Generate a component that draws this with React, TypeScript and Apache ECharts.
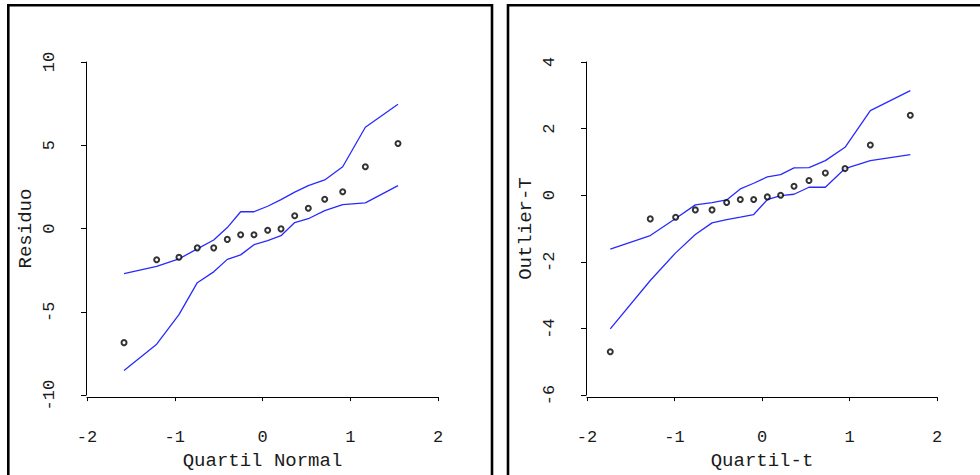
import React, { useEffect, useRef } from "react";
import * as echarts from "echarts";

// Left panel: normal probability plot of the residuals with its envelope
const leftQuantiles = [-1.578, -1.206, -0.952, -0.743, -0.556, -0.401, -0.249, -0.097, 0.059, 0.211, 0.367, 0.522, 0.709, 0.914, 1.172, 1.544];
const leftResiduals = [-6.85, -1.87, -1.72, -1.16, -1.16, -0.65, -0.37, -0.37, -0.1, -0.02, 0.77, 1.22, 1.76, 2.21, 3.71, 5.11];
const leftUpper = [-2.7, -2.27, -1.82, -1.22, -0.69, 0.06, 1.01, 1.01, 1.34, 1.74, 2.19, 2.58, 2.92, 3.71, 6.08, 7.46];
const leftLower = [-8.52, -6.94, -5.17, -3.25, -2.6, -1.85, -1.58, -0.97, -0.73, -0.43, 0.36, 0.59, 1.08, 1.44, 1.54, 2.58];

// Right panel: studentized residuals against t quantiles with its envelope
const rightQuantiles = [-1.734, -1.277, -0.987, -0.762, -0.571, -0.404, -0.248, -0.095, 0.061, 0.213, 0.366, 0.537, 0.724, 0.949, 1.238, 1.695];
const rightOutlierT = [-4.7, -0.71, -0.66, -0.44, -0.44, -0.22, -0.13, -0.13, -0.05, 0.0, 0.27, 0.44, 0.67, 0.8, 1.51, 2.4];
const rightUpper = [-1.62, -1.21, -0.7, -0.29, -0.22, -0.14, 0.19, 0.36, 0.55, 0.62, 0.82, 0.83, 1.04, 1.44, 2.54, 3.14];
const rightLower = [-4.01, -2.56, -1.73, -1.18, -0.83, -0.73, -0.66, -0.58, -0.13, -0.01, 0.03, 0.24, 0.24, 0.8, 1.04, 1.22];

const xTicks = { min: -2, max: 2, interval: 1 };
const leftYTicks = { min: -10, max: 10, interval: 5 };
const rightYTicks = { min: -6, max: 4, interval: 2 };

const FONT = "'Liberation Mono', 'DejaVu Sans Mono', monospace";
const BLUE = "#2a2aff";
const INK = "#1a1a1a";

const pairs = (xs: number[], ys: number[]) => xs.map((x, i) => [x, ys[i]]);

function xAxisFor(gridIndex: number, name: string) {
  return {
    type: "value",
    gridIndex,
    ...xTicks,
    offset: 2,
    name,
    nameLocation: "middle",
    nameGap: 49,
    nameTextStyle: { fontFamily: FONT, fontSize: 19, color: INK },
    splitLine: { show: false },
    axisLine: { show: true, onZero: false, lineStyle: { color: "#000", width: 1 } },
    axisTick: { show: true, length: 4, lineStyle: { color: "#000" } },
    axisLabel: { fontFamily: FONT, fontSize: 17, color: INK, margin: 32 },
  };
}

function yAxisFor(gridIndex: number, name: string, ticks: { min: number; max: number; interval: number }) {
  return {
    type: "value",
    gridIndex,
    ...ticks,
    offset: 1,
    name,
    nameLocation: "middle",
    nameGap: 51,
    nameRotate: 90,
    nameTextStyle: { fontFamily: FONT, fontSize: 19, color: INK },
    splitLine: { show: false },
    axisLine: { show: true, onZero: false, lineStyle: { color: "#000", width: 1 } },
    axisTick: { show: true, length: 5, lineStyle: { color: "#000" } },
    axisLabel: { fontFamily: FONT, fontSize: 17, color: INK, rotate: 90, margin: 28 },
  };
}

function lineSeries(xAxisIndex: number, data: number[][]) {
  return {
    type: "line",
    xAxisIndex,
    yAxisIndex: xAxisIndex,
    data,
    showSymbol: false,
    symbol: "none",
    lineStyle: { color: BLUE, width: 1.3 },
    z: 2,
  };
}

function pointSeries(xAxisIndex: number, data: number[][]) {
  return {
    type: "scatter",
    xAxisIndex,
    yAxisIndex: xAxisIndex,
    data,
    symbol: "emptyCircle",
    symbolSize: 5,
    itemStyle: { color: "#000", borderColor: "#000", borderWidth: 0.9 },
    z: 3,
  };
}

export default function App() {
  const ref = useRef<HTMLDivElement>(null);

  useEffect(() => {
    if (!ref.current) return;
    const chart = echarts.init(ref.current, undefined, { renderer: "svg" });
    chart.setOption({
      animation: false,
      backgroundColor: "#ffffff",
      grid: [
        { left: 87, top: 62, width: 351, height: 338 },
        { left: 587, top: 62, width: 350, height: 338 },
      ],
      xAxis: [xAxisFor(0, "Quartil Normal"), xAxisFor(1, "Quartil-t")],
      yAxis: [yAxisFor(0, "Residuo", leftYTicks), yAxisFor(1, "Outlier-T", rightYTicks)],
      graphic: [
        {
          type: "rect",
          shape: { x: 8.3, y: 5.3, width: 483.7, height: 520 },
          style: { fill: "none", stroke: "#000", lineWidth: 2.6 },
          silent: true,
        },
        {
          type: "rect",
          shape: { x: 508, y: 5.3, width: 520, height: 520 },
          style: { fill: "none", stroke: "#000", lineWidth: 2.6 },
          silent: true,
        },
      ],
      series: [
        lineSeries(0, pairs(leftQuantiles, leftUpper)),
        lineSeries(0, pairs(leftQuantiles, leftLower)),
        pointSeries(0, pairs(leftQuantiles, leftResiduals)),
        lineSeries(1, pairs(rightQuantiles, rightUpper)),
        lineSeries(1, pairs(rightQuantiles, rightLower)),
        pointSeries(1, pairs(rightQuantiles, rightOutlierT)),
      ],
    });
    return () => chart.dispose();
  }, []);

  return (
    <div
      ref={ref}
      style={{ position: "absolute", left: 0, top: 0, width: 980, height: 475 }}
    />
  );
}
